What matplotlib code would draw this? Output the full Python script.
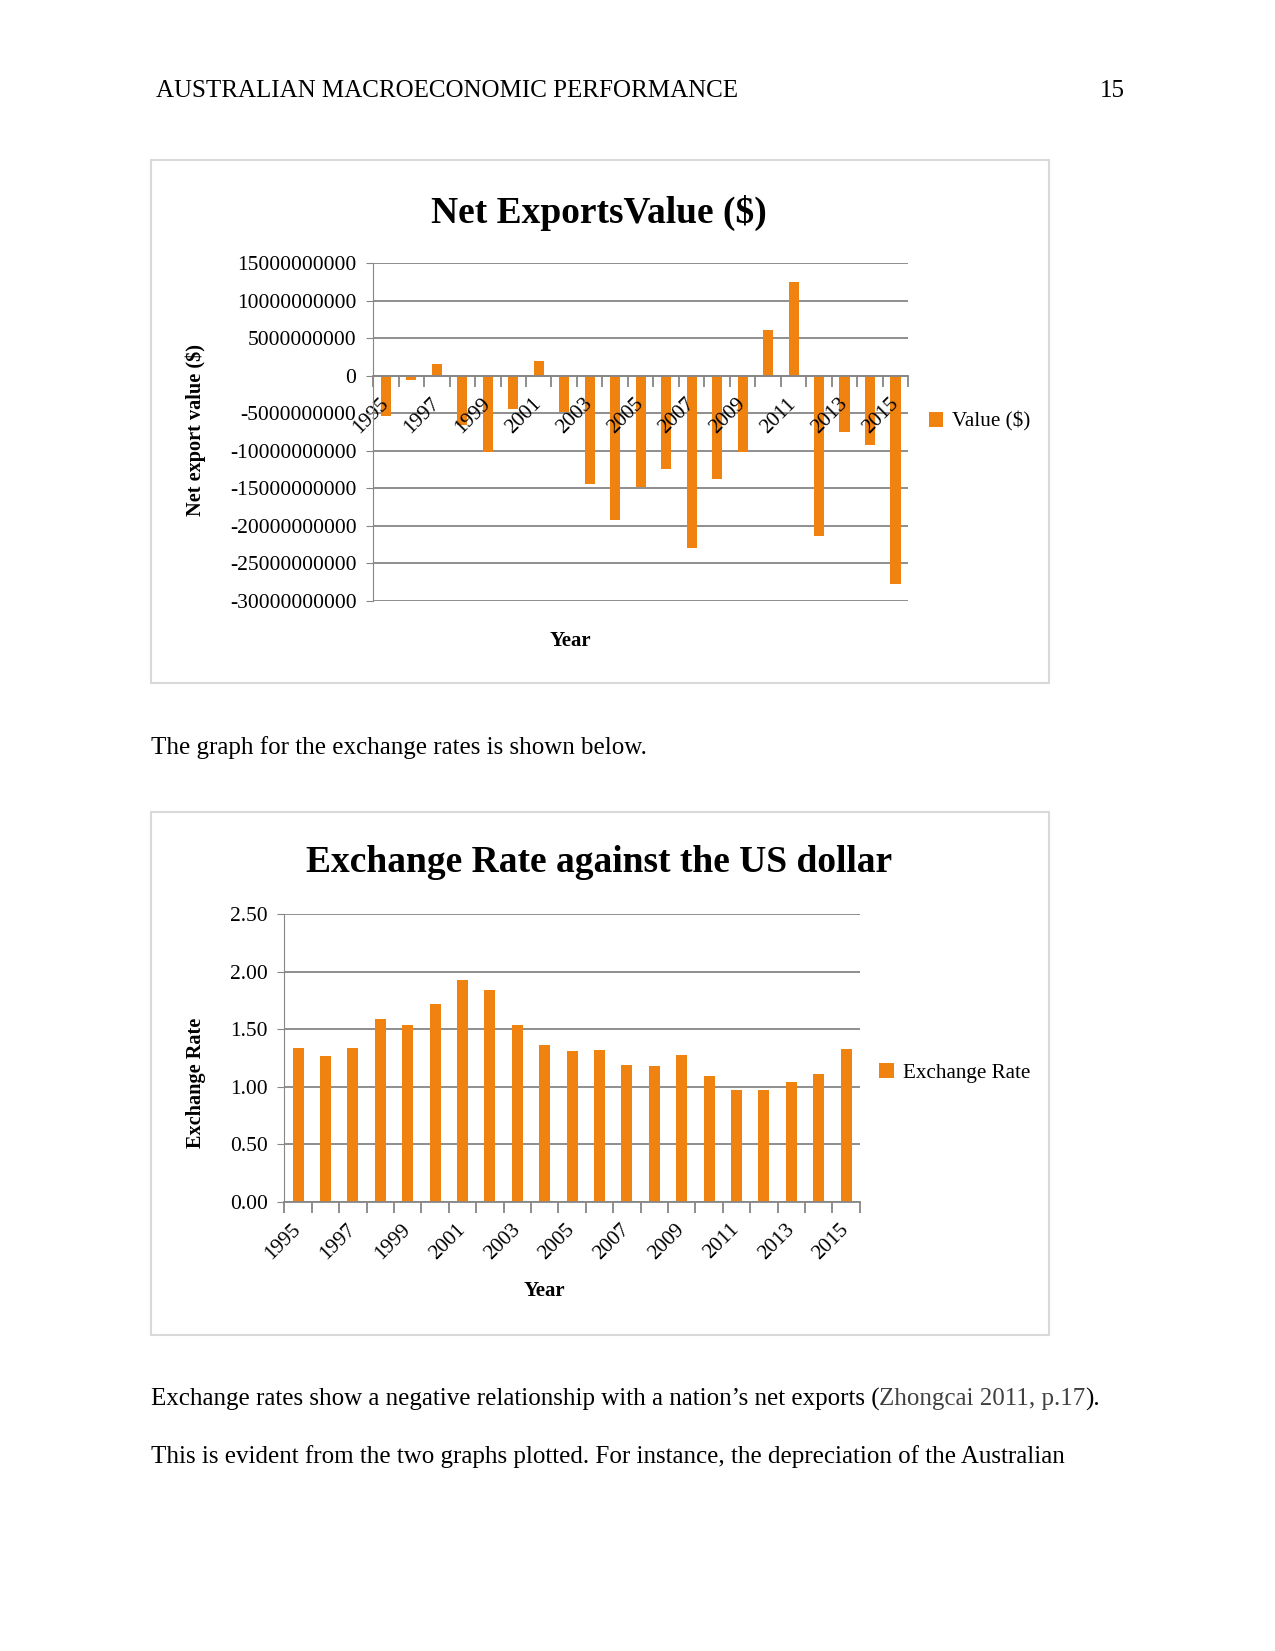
#!/usr/bin/env python3

from matplotlib import pyplot as plt
from matplotlib.patches import Rectangle
from matplotlib.ticker import FixedLocator, NullFormatter
import numpy as np

years = list(range(1995, 2016))
net_exports = [-5.3e9, -0.5e9, 1.6e9, -6.5e9, -10.1e9, -4.4e9, 2.0e9, -4.8e9, -14.4e9, -19.2e9,
               -14.8e9, -12.4e9, -22.9e9, -13.7e9, -10.1e9, 6.1e9, 12.5e9, -21.4e9, -7.5e9,
               -9.2e9, -27.8e9]
exchange_rate = [1.34, 1.27, 1.34, 1.59, 1.54, 1.72, 1.93, 1.84, 1.54, 1.36, 1.31, 1.32, 1.19,
                 1.18, 1.28, 1.09, 0.97, 0.97, 1.04, 1.11, 1.33]
net_ticks = [15000000000, 10000000000, 5000000000, 0, -5000000000, -10000000000, -15000000000,
             -20000000000, -25000000000, -30000000000]
rate_ticks = [0.0, 0.5, 1.0, 1.5, 2.0, 2.5]

ORANGE = "#F0820F"
GRID = "#868686"
BODY = 18

plt.rcParams["font.family"] = "Liberation Serif"


def style_axes(ax, x, yticks, ylabels):
    ax.set_xlim(-0.5, len(x) - 0.5)
    ax.set_yticks(yticks)
    ax.set_yticklabels(ylabels, fontsize=15.5)
    # gridlines under the bars, tick labels above them
    for v in yticks:
        ax.axhline(v, color=GRID, linewidth=1.3, zorder=0.5)
    for s in ("top", "right"):
        ax.spines[s].set_visible(False)
    ax.spines["left"].set_color(GRID)
    ax.spines["bottom"].set_color(GRID)
    ax.spines["bottom"].set_linewidth(1.3)
    ax.tick_params(axis="y", length=5, color=GRID, pad=7)
    # labels every other year, tick marks between categories
    ax.set_xticks(x[::2])
    ax.set_xticklabels([str(years[i]) for i in x[::2]], fontsize=15.3, rotation=45,
                       ha="right", va="center", rotation_mode="anchor")
    ax.tick_params(axis="x", which="major", length=0, pad=18)
    ax.xaxis.set_minor_locator(FixedLocator(np.arange(-0.5, len(x), 1.0)))
    ax.xaxis.set_minor_formatter(NullFormatter())
    ax.tick_params(axis="x", which="minor", length=8, color=GRID, width=1.3)


def main():
    fig = plt.figure(figsize=(12.75, 16.51), dpi=100)

    # page text
    fig.text(0.1223, 0.945, "AUSTRALIAN MACROECONOMIC PERFORMANCE", fontsize=BODY, va="center")
    fig.text(0.8826, 0.945, "15", fontsize=BODY, va="center", ha="right")
    fig.text(0.1182, 0.5473, "The graph for the exchange rates is shown below.", fontsize=BODY,
             va="center")
    t = fig.text(0.1182, 0.1526, "Exchange rates show a negative relationship with a nation\u2019s net exports (",
                 fontsize=BODY, va="center")
    fig.canvas.draw()
    bb = t.get_window_extent().transformed(fig.transFigure.inverted())
    t2 = fig.text(bb.x1, 0.1526, "Zhongcai 2011, p.17", fontsize=BODY, va="center", color="#404040")
    bb2 = t2.get_window_extent().transformed(fig.transFigure.inverted())
    fig.text(bb2.x1, 0.1526, ").", fontsize=BODY, va="center")
    fig.text(0.1182, 0.1181, "This is evident from the two graphs plotted. For instance, the depreciation of the Australian",
             fontsize=BODY, va="center")

    # chart frames
    for y0, y1 in ((0.5862, 0.9029), (0.1916, 0.5083)):
        fig.patches.append(Rectangle((0.1182, y0), 0.8231 - 0.1182, y1 - y0, transform=fig.transFigure,
                                     fill=False, edgecolor="#d9d9d9", linewidth=1.5))

    x = np.arange(len(years))

    # net exports chart
    ax1 = fig.add_axes([0.2926, 0.636, 0.7124 - 0.2926, 0.8404 - 0.636])
    ax1.spines["bottom"].set_position(("data", 0))
    bars1 = ax1.bar(x, net_exports, width=0.4, color=ORANGE, label="Value ($)", zorder=1)
    ax1.set_ylim(-30e9, 15e9)
    style_axes(ax1, x, net_ticks, [str(v) for v in net_ticks])
    fig.text(0.470, 0.871, "Net ExportsValue ($)", fontsize=27, fontweight="bold",
             ha="center", va="center")
    fig.text(0.1537, 0.7395, "Net export value ($)", fontsize=14.6, fontweight="bold",
             rotation=90, ha="center", va="center")
    fig.text(0.447, 0.6117, "Year", fontsize=15, fontweight="bold", ha="center", va="center")
    ax1.legend(handles=[bars1], loc="center left", bbox_to_anchor=(0.720, 0.7446),
               bbox_transform=fig.transFigure, frameon=False, fontsize=15.2,
               handlelength=0.7, handleheight=0.7, handletextpad=0.4, borderpad=0)

    # exchange rate chart
    ax2 = fig.add_axes([0.2231, 0.272, 0.6744 - 0.2231, 0.4464 - 0.272])
    bars2 = ax2.bar(x, exchange_rate, width=0.4, color=ORANGE, label="Exchange Rate", zorder=1)
    ax2.set_ylim(0, 2.5)
    style_axes(ax2, x, rate_ticks, ["%.2f" % v for v in rate_ticks])
    fig.text(0.470, 0.4775, "Exchange Rate against the US dollar", fontsize=27, fontweight="bold",
             ha="center", va="center")
    fig.text(0.1537, 0.3442, "Exchange Rate", fontsize=14.6, fontweight="bold",
             rotation=90, ha="center", va="center")
    fig.text(0.4273, 0.2178, "Year", fontsize=15, fontweight="bold", ha="center", va="center")
    ax2.legend(handles=[bars2], loc="center left", bbox_to_anchor=(0.6815, 0.35),
               bbox_transform=fig.transFigure, frameon=False, fontsize=15.2,
               handlelength=0.7, handleheight=0.7, handletextpad=0.4, borderpad=0)

    fig.savefig("out.png", dpi=100, facecolor="white")


if __name__ == "__main__":
    main()
